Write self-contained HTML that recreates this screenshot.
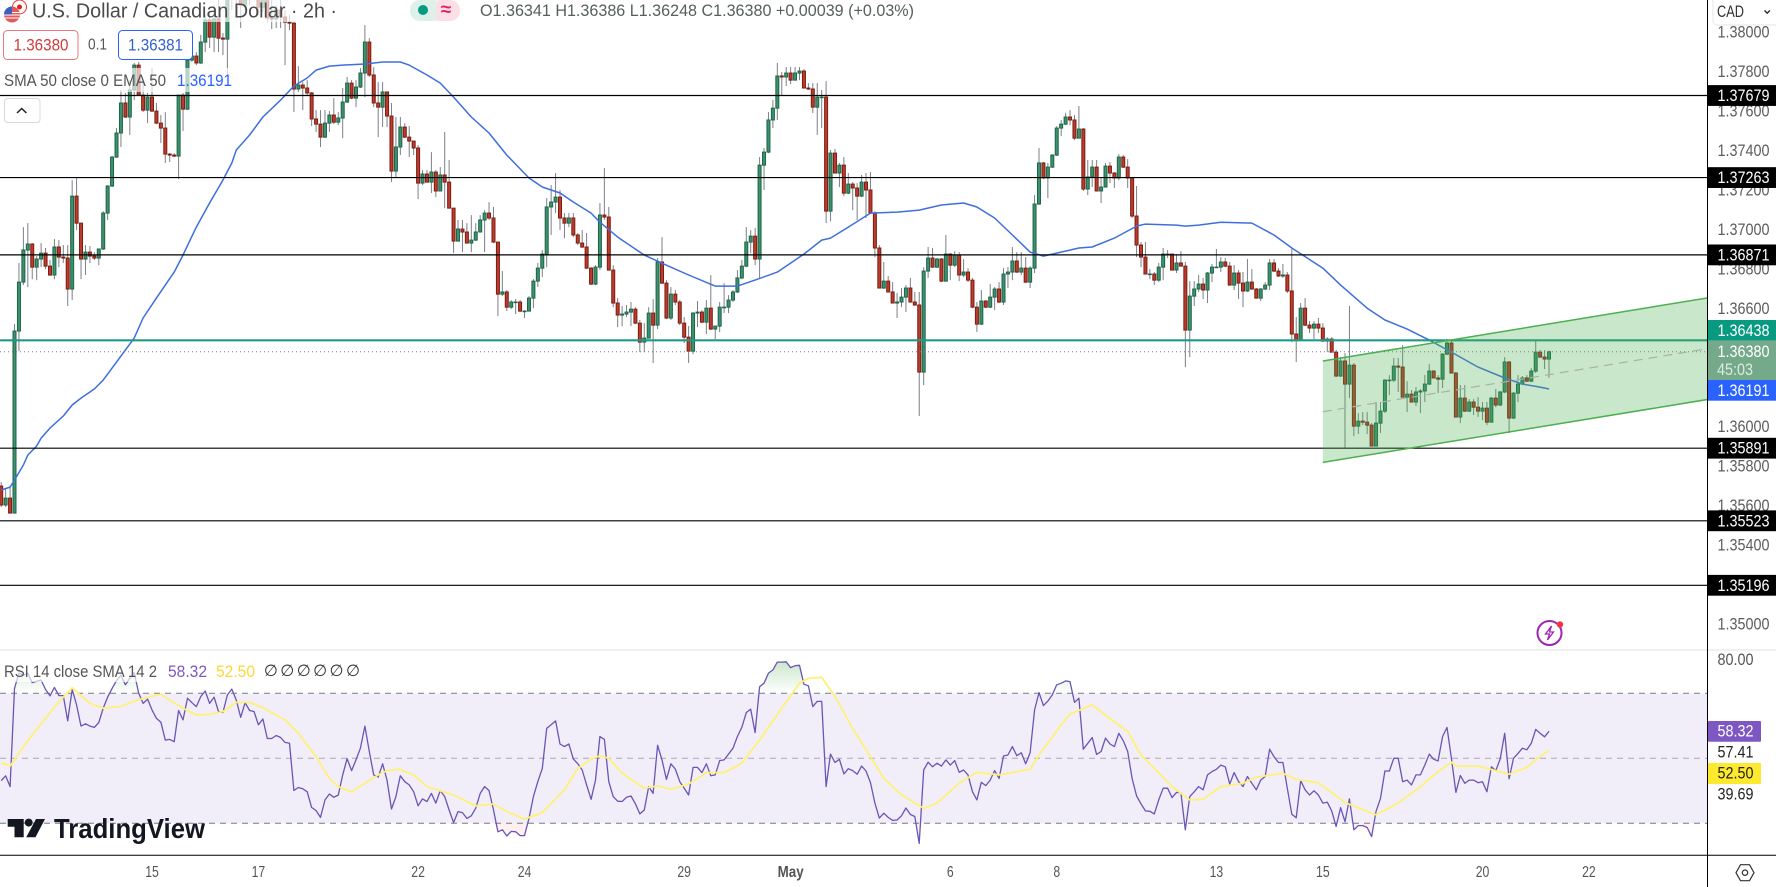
<!DOCTYPE html>
<html lang="en">
<head>
<meta charset="utf-8">
<title>USD/CAD 2h chart</title>
<style>
html,body{margin:0;padding:0;background:#fff;width:1776px;height:887px;overflow:hidden}
svg{display:block}
text{font-family:"Liberation Sans","DejaVu Sans",sans-serif;dominant-baseline:central}
</style>
</head>
<body>
<svg id="chart" xmlns="http://www.w3.org/2000/svg" width="1776" height="887" viewBox="0 0 1776 887">
<defs>
<clipPath id="pricePane"><rect x="0" y="0" width="1707" height="650"/></clipPath>
<clipPath id="rsiPane"><rect x="0" y="651" width="1707" height="204"/></clipPath>
<clipPath id="aboveOb"><rect x="0" y="651" width="1707" height="42.3"/></clipPath>
<clipPath id="belowOs"><rect x="0" y="823.3" width="1707" height="32"/></clipPath>
<linearGradient id="obGrad" x1="0" y1="0" x2="0" y2="1" gradientUnits="userSpaceOnUse"><stop offset="0" stop-color="#4caf50" stop-opacity=".3"/><stop offset="1" stop-color="#4caf50" stop-opacity="0"/></linearGradient>
</defs>
<rect x="0" y="0" width="1776" height="887" fill="#fff"/>
<g id="candles" clip-path="url(#pricePane)"></g>
<g id="ema" clip-path="url(#pricePane)"></g>
<g id="levels" clip-path="url(#pricePane)"></g>
<g id="channel" clip-path="url(#pricePane)"></g>
<g id="rsi"></g>

<line x1="0" y1="650" x2="1776" y2="650" stroke="#e6e6e8" stroke-width="1.2"/>
<line x1="0" y1="855.3" x2="1776" y2="855.3" stroke="#000" stroke-width="1"/>
<line x1="1707.5" y1="0" x2="1707.5" y2="887" stroke="#000" stroke-width="1"/>

<g id="priceAxis"></g>
<g id="timeAxis"></g>

<g>
<rect x="1708" y="320" width="68" height="20.7" fill="#089981"/>
<text x="1717.5" y="330.5" font-size="17" textLength="52" lengthAdjust="spacingAndGlyphs" fill="#fff">1.36438</text>
<rect x="1708" y="340.7" width="68" height="39.3" fill="#74a98a"/>
<text x="1717.5" y="351.5" font-size="17" textLength="52" lengthAdjust="spacingAndGlyphs" fill="#fff">1.36380</text>
<text x="1717" y="369.5" font-size="17" textLength="36" lengthAdjust="spacingAndGlyphs" fill="#dcebe2">45:03</text>
<rect x="1708" y="380" width="68" height="20.7" fill="#2962ff"/>
<text x="1717.5" y="390.7" font-size="17" textLength="52" lengthAdjust="spacingAndGlyphs" fill="#fff">1.36191</text>
</g>

<g>
<rect x="1713" y="-4" width="70" height="29" rx="4" fill="#fff" stroke="#e6e6e8"/>
<text x="1717" y="12" font-size="16.5" textLength="27" lengthAdjust="spacingAndGlyphs" fill="#333">CAD</text>
<path d="M1764.5 10.5l2.7 2.7 2.7-2.7" fill="none" stroke="#222" stroke-width="1.3"/>
</g>

<g>
<text x="1717.5" y="660" font-size="16.5" textLength="36" lengthAdjust="spacingAndGlyphs" fill="#555">80.00</text>
<rect x="1708" y="721" width="53" height="20.7" rx="1" fill="#7e57c2"/>
<text x="1717.5" y="731.5" font-size="16.5" textLength="36" lengthAdjust="spacingAndGlyphs" fill="#fff">58.32</text>
<text x="1717.5" y="752.7" font-size="16.5" textLength="36" lengthAdjust="spacingAndGlyphs" fill="#222">57.41</text>
<rect x="1708" y="763" width="53" height="21" rx="1" fill="#fdea2e"/>
<text x="1717.5" y="773.5" font-size="16.5" textLength="36" lengthAdjust="spacingAndGlyphs" fill="#222">52.50</text>
<text x="1717.5" y="794.7" font-size="16.5" textLength="36" lengthAdjust="spacingAndGlyphs" fill="#222">39.69</text>
</g>

<g>
<rect x="0" y="0" width="345" height="22" fill="#fff" opacity=".68"/>
<g>
<circle cx="19.5" cy="7" r="7" fill="#fff" stroke="#e33" stroke-width="1"/>
<circle cx="19.5" cy="7" r="2.5" fill="#d22"/>
<circle cx="12" cy="14.5" r="8" fill="#e05a5a"/>
<path d="M4.3 12.5h15.4M4 15h16M4.8 18h14.4" stroke="#fff" stroke-width="1.1"/>
<path d="M4 14.5a8 8 0 0 1 8-8v8z" fill="#3b5fc0"/>
</g>
<text x="32" y="11.5" font-size="20" textLength="305" lengthAdjust="spacingAndGlyphs" fill="#4a4a4a">U.S. Dollar / Canadian Dollar · 2h ·</text>
<rect x="410" y="0" width="30" height="21" rx="10" fill="#dff0ea"/>
<rect x="430" y="0" width="30" height="21" rx="10" fill="#fbdfe6"/>
<rect x="424" y="0" width="12" height="21" fill="#dff0ea"/>
<circle cx="423" cy="10" r="5" fill="#089981"/>
<text x="446" y="10" font-size="19" font-weight="700" text-anchor="middle" fill="#e91e63">≈</text>
<text x="480" y="10.7" font-size="17" textLength="434" lengthAdjust="spacingAndGlyphs" fill="#55605c">O1.36341  H1.36386  L1.36248  C1.36380  +0.00039 (+0.03%)</text>

<rect x="3.5" y="30.5" width="74.5" height="29" rx="4" fill="#fff" stroke="#e5787f"/>
<text x="13.5" y="45" font-size="17" textLength="55" lengthAdjust="spacingAndGlyphs" fill="#d33a3a">1.36380</text>
<text x="88" y="45" font-size="16" textLength="19" lengthAdjust="spacingAndGlyphs" fill="#555">0.1</text>
<rect x="118.5" y="30.5" width="74" height="29" rx="4" fill="#fff" stroke="#2962ff"/>
<text x="128" y="45" font-size="17" textLength="55" lengthAdjust="spacingAndGlyphs" fill="#2f5fd0">1.36381</text>

<rect x="0" y="68" width="236" height="24" fill="#fff" opacity=".65"/>
<text x="4" y="80.7" font-size="17" textLength="162" lengthAdjust="spacingAndGlyphs" fill="#555">SMA 50 close 0 EMA 50</text>
<text x="177" y="80.7" font-size="17" textLength="55" lengthAdjust="spacingAndGlyphs" fill="#2962ff">1.36191</text>

<rect x="4.5" y="98.5" width="35.5" height="24" rx="3" fill="#fff" stroke="#d6d8de"/>
<path d="M17 113l4.7-4.5 4.7 4.5" fill="none" stroke="#222" stroke-width="1.5"/>

<rect x="0" y="662" width="370" height="20" fill="#fff" opacity=".65"/>
<text x="4" y="671.7" font-size="17" textLength="153" lengthAdjust="spacingAndGlyphs" fill="#555">RSI 14 close SMA 14 2</text>
<text x="168" y="671.7" font-size="17" textLength="39" lengthAdjust="spacingAndGlyphs" fill="#7e57c2">58.32</text>
<text x="216" y="671.7" font-size="17" textLength="39" lengthAdjust="spacingAndGlyphs" fill="#fdd835">52.50</text>
<text x="264" y="671.7" font-size="16" textLength="96" fill="#333">∅∅∅∅∅∅</text>
</g>

<g>
<path d="M7.7 819h16v18.3h-9.2v-10.6h-6.8z" fill="#131722"/>
<circle cx="28.7" cy="822.6" r="4" fill="#131722"/>
<path d="M36 819h9l-9.5 18.3h-9.3z" fill="#131722"/>
<text x="54" y="828.5" font-size="28" font-weight="700" textLength="151" lengthAdjust="spacingAndGlyphs" fill="#131722">TradingView</text>
</g>

<g>
<circle cx="1549.5" cy="633" r="12" fill="#fff" stroke="#9c27b0" stroke-width="2"/>
<path d="M1551.5 626l-6 8h4l-2 6 6-8h-4z" fill="none" stroke="#9c27b0" stroke-width="1.3"/>
<circle cx="1560" cy="624.5" r="3.2" fill="#f23645"/>
</g>

<g>
<path d="M1736 872.7l4.5-8h9l4.5 8-4.5 8h-9z" fill="none" stroke="#333" stroke-width="1.2"/>
<circle cx="1745" cy="872.7" r="2.7" fill="none" stroke="#333" stroke-width="1.2"/>
</g>
</svg>

<script>
// Prices are quoted in pipettes: 136380 = 1.36380
const firstOpen = 135699;
const closes = [135603,135638,135562,136485,136733,136896,136926,136809,136850,136880,136814,136769,136911,136860,136855,136698,137169,137032,136850,136885,136865,136855,136901,137083,137220,137367,137489,137641,137570,137707,137833,137681,137605,137671,137600,137539,137514,137382,137377,137372,137681,137610,137859,137879,137844,137950,138062,137975,138067,137970,137965,138188,138224,138264,138138,138188,138239,138264,138127,138178,138072,138067,138112,138077,138051,138046,137712,137732,137717,137692,137560,137534,137468,137539,137580,137544,137565,137646,137742,137666,137722,137793,137950,137783,137641,137620,137697,137575,137296,137418,137519,137468,137448,137413,137235,137281,137240,137291,137195,137276,137240,137108,136941,137002,136987,136931,136946,136987,137048,137083,137058,136936,136672,136683,136606,136632,136632,136586,136586,136652,136738,136804,136875,137114,137139,137164,137058,137032,137058,136972,136931,136911,136804,136723,136809,137073,137063,136794,136627,136566,136571,136581,136596,136525,136429,136449,136576,136515,136835,136728,136551,136672,136632,136525,136454,136383,136576,136581,136530,136601,136495,136510,136606,136606,136642,136683,136754,136814,136936,136966,136850,137326,137392,137555,137615,137778,137773,137793,137757,137793,137803,137717,137712,137620,137671,137671,137093,137387,137286,137326,137184,137230,137210,137169,137240,137200,137083,136906,136703,136738,136683,136627,136632,136657,136703,136632,136617,136277,136789,136855,136809,136850,136738,136875,136819,136870,136769,136784,136743,136606,136520,136637,136606,136657,136698,136632,136774,136784,136840,136784,136804,136733,136804,137129,137337,137261,137316,137377,137514,137534,137570,137555,137463,137509,137205,137266,137316,137195,137215,137321,137286,137261,137367,137316,137261,137068,136921,136860,136774,136774,136743,136809,136875,136875,136794,136830,136814,136490,136662,136698,136723,136693,136779,136809,136809,136835,136814,136718,136779,136728,136688,136733,136698,136652,136698,136718,136830,136789,136764,136769,136688,136470,136439,136601,136515,136500,136520,136500,136434,136444,136378,136257,136333,136216,136312,136003,136028,136023,136008,135902,136018,136079,136236,136236,136307,136302,136150,136165,136125,136176,136181,136216,136282,136247,136241,136368,136424,136272,136049,136145,136079,136125,136099,136079,136094,136023,136145,136110,136176,136328,136044,136170,136216,136247,136231,136282,136378,136353,136343,136380];
const highs = [135719,135689,135694,136520,136830,137012,137032,136931,136865,136931,136906,136845,136951,136946,136921,136921,137250,137261,137032,136921,136916,136885,136901,137093,137225,137372,137514,137707,137692,137757,137844,137849,137757,137692,137818,137641,137580,137595,137387,137387,137681,137692,137910,137899,137899,137986,138092,138102,138138,138163,137996,138214,138264,138315,138290,138239,138290,138315,138290,138224,138214,138163,138138,138173,138112,138087,138051,137828,137747,137757,137697,137605,137605,137605,137600,137666,137595,137717,137773,137757,137757,137818,138036,137970,137823,137747,137747,137697,137641,137570,137570,137539,137524,137448,137428,137301,137301,137392,137301,137316,137494,137352,137108,137048,137048,137032,137073,137032,137073,137098,137139,137114,136936,136789,136693,136642,136647,136642,136591,136662,136748,136830,136896,137159,137225,137286,137200,137083,137083,137083,136982,136997,136982,136809,136819,137134,137311,137114,136819,136652,136612,136617,136632,136606,136541,136525,136606,136647,136855,136961,136743,136708,136693,136642,136556,136510,136581,136637,136591,136642,136769,136510,136632,136728,136667,136693,136794,136845,137012,136997,137007,137367,137413,137595,137656,137844,137798,137823,137823,137823,137823,137813,137742,137742,137742,137707,137752,137403,137408,137337,137367,137286,137240,137235,137276,137286,137291,137093,136921,136835,136764,136733,136678,136703,136718,136754,136683,136683,136809,136911,136906,136855,136855,136972,136880,136890,136885,136850,136804,136754,136632,136693,136642,136723,136708,136733,136804,136809,136911,136885,136885,136860,136814,137174,137413,137342,137337,137382,137524,137555,137590,137605,137580,137626,137514,137352,137352,137352,137266,137337,137342,137291,137382,137377,137357,137266,137220,136936,136936,136799,136784,136830,136906,136896,136875,136875,136890,136835,136738,136738,136769,136754,136784,136825,136901,136860,136855,136835,136819,136794,136784,136850,136799,136703,136703,136733,136850,136850,136804,136825,136784,136901,136556,136627,136652,136536,136536,136551,136525,136454,136454,136389,136353,136373,136612,136323,136069,136074,136074,136018,136125,136125,136241,136262,136348,136348,136414,136231,136186,136201,136191,136262,136318,136287,136262,136373,136444,136434,136277,136211,136211,136140,136140,136150,136125,136125,136150,136191,136181,136353,136333,136176,136262,136257,136262,136297,136434,136389,136389,136386];
const lows = [135593,135593,135562,135562,136383,136718,136708,136748,136743,136809,136799,136764,136748,136809,136830,136612,136642,136997,136748,136769,136830,136845,136819,136896,137048,137215,137362,137418,137565,137479,137656,137681,137595,137539,137595,137534,137438,137337,137342,137367,137255,137499,137605,137849,137833,137839,137899,137920,137899,137899,137884,137783,138112,138138,138021,138112,138138,138163,138087,138102,138051,138016,138021,138021,137833,138011,137595,137697,137605,137681,137524,137494,137418,137463,137494,137534,137529,137463,137641,137661,137620,137717,137671,137773,137620,137468,137519,137519,137240,137261,137377,137463,137367,137377,137154,137225,137240,137185,137164,137195,137108,137108,136880,136941,136885,136931,136885,136941,136987,136885,137048,136931,136561,136662,136586,136596,136571,136581,136551,136586,136601,136708,136759,136809,136972,137083,136997,136956,137012,136961,136921,136906,136799,136718,136718,136794,137048,136794,136606,136505,136510,136556,136510,136520,136378,136378,136449,136323,136495,136723,136546,136541,136617,136515,136424,136323,136368,136505,136525,136470,136490,136444,136480,136576,136576,136632,136678,136748,136809,136880,136819,136754,137200,137387,137514,137555,137681,137727,137737,137757,137757,137717,137707,137590,137479,137514,137032,137042,137286,137215,137169,137179,137098,137048,137164,137058,137078,136860,136703,136698,136683,136627,136551,136606,136581,136632,136612,136054,136211,136754,136804,136804,136733,136794,136743,136809,136738,136759,136733,136601,136480,136515,136601,136601,136591,136627,136617,136703,136743,136779,136769,136728,136703,136779,137124,137255,137159,137311,137372,137473,137529,137529,137453,137463,137195,137174,137215,137195,137134,137215,137235,137210,137250,137311,137210,137058,136860,136809,136774,136748,136718,136733,136743,136855,136794,136779,136814,136302,136353,136612,136683,136647,136627,136733,136804,136784,136809,136718,136693,136647,136606,136683,136693,136652,136637,136693,136693,136784,136759,136754,136678,136429,136328,136434,136510,136475,136444,136475,136429,136378,136378,136252,136252,135892,136145,135952,135963,136008,135963,135902,135902,135968,136069,136160,136226,136176,136150,136074,136125,136105,136069,136125,136211,136247,136170,136196,136363,136272,136049,136018,136074,136074,136059,136049,136034,136008,136023,136099,136105,136170,135968,136039,136125,136211,136226,136226,136272,136348,136292,136248];
const emaBars = [0,2,3,5,6,8,9,11,14,16,18,21,23,25,28,30,32,35,37,39,41,44,47,50,52,53,56,59,63,66,69,71,74,77,82,86,90,92,96,99,102,106,110,114,119,122,126,129,133,135,139,145,150,155,161,166,170,175,181,185,187,191,196,202,207,212,217,220,224,228,232,235,238,243,246,251,256,258,265,267,270,275,282,287,291,298,302,308,312,317,322,327,333,339,343,347,349];
const emaValues = [135679,135694,135730,135806,135856,135902,135942,135993,136054,136110,136145,136191,136236,136297,136389,136449,136551,136652,136718,136784,136870,137012,137134,137250,137337,137403,137479,137570,137656,137727,137768,137808,137828,137833,137839,137849,137849,137833,137783,137742,137671,137570,137489,137377,137261,137215,137185,137139,137083,137037,136961,136870,136819,136769,136713,136713,136743,136784,136875,136946,136956,137012,137083,137088,137098,137124,137134,137114,137058,136972,136885,136865,136880,136906,136911,136956,137017,137027,137022,137017,137022,137037,137032,136972,136906,136804,136718,136601,136541,136495,136439,136378,136302,136247,136216,136201,136191];
const rsiValues = [43.1,44.6,41.3,71.5,76.2,75.6,76.2,73.3,73.7,74.1,71.2,69.2,71.8,69.3,69.3,61.5,71.2,66.4,59.9,60.6,59.9,59.5,61,65.4,68.8,71.5,73.9,75.6,72.6,74.6,76.4,70,66.9,68.2,64.9,62.3,61.1,55.6,55.8,55.1,64.7,61.8,68.5,67.1,65.9,69,70.7,66.9,68.8,64.4,64.1,69.5,71.3,67.9,62.6,67.1,64.7,64.4,60.3,62.1,56.1,56.1,57,56.4,54.9,54.6,40.1,41,40.6,39.7,34.9,33.9,31.8,37.2,39,38,38.7,44.9,49.9,46.2,49.5,53.1,59.9,52.1,44.9,44.2,48.3,43.3,34.4,38.2,44.6,42.8,41.8,39.7,35.4,37.5,36.7,39.2,36.2,40.1,38.2,34.1,30.2,33.6,33.3,31.5,32.3,34.6,39.2,41.3,40.1,34.1,27.4,28,26.1,27.5,27.4,26.2,26.2,31.5,38.2,42.8,46.9,59.2,60.3,61.5,54.4,53.6,54.4,49.8,48.3,46.4,41.8,37.4,43.3,56.7,55.8,42.8,38.2,36.8,36.7,38,38.4,36,32.9,34.1,41.3,39.2,54,49.5,43.5,48.3,46.7,42.8,40.8,38.7,47.2,47.2,45.6,48.3,44.6,44.9,49.3,49.5,51.3,53.1,56.7,59.5,64.1,65.1,57.9,72,73.1,76.2,77.2,79.6,79.6,79.7,77.9,78.5,78.6,72.8,72.3,65.9,67.5,67.5,41.3,51.3,48.7,49.7,45.2,46.8,46.2,45.1,47.6,46.1,42.5,36.2,31.6,33.1,31.8,30.9,31,32.3,34.7,32.7,32.1,23.8,46.4,48.8,47.4,48.5,47.6,49.5,47.9,49.3,45.7,46.4,44.9,39.7,37.2,42.6,41.6,43.3,46.2,43.8,50.7,51,53.6,50.8,51.7,48.3,51.7,64.9,70.2,66.2,67.6,69.5,72.6,73.1,73.8,73.6,67.2,68.5,52.8,54.6,56.4,51.2,52.1,56.2,54.4,53.6,57.7,55.4,52.1,43.8,38.4,36,33.8,33.7,32.9,37.2,40.8,40.8,37.9,39.5,39.4,28,38.2,39.7,41.3,40.3,44.9,45.9,46.6,47.9,47.4,42.1,45.6,42.8,41.3,44.4,42.3,40.3,43.3,44.4,52.8,50.5,48.7,48.7,40.8,32.8,31.7,43.1,40.3,38.7,40,38.7,36.2,36.5,33.8,29,34.8,30.5,37.5,28,29.3,29.3,28.7,25.9,33.6,37.7,46.1,46.1,50,50,42.8,43.3,41.8,44.9,44.9,47.9,51.3,49.7,49.2,56.7,59.5,50,39.5,44.7,42.3,43.3,43.3,42.5,42.8,39.7,47.4,46.2,49.8,57.7,43.7,50,51.5,53.1,52.6,54.6,58.9,57.7,56.6,58.32];
const rsiMaBars = [0,2,5,7,10,13,16,17,20,23,27,30,33,36,38,41,44,47,50,53,56,59,64,67,71,74,76,79,82,85,87,90,93,96,102,107,111,114,118,122,127,130,133,135,137,140,145,148,151,155,159,163,167,171,176,180,182,185,188,192,196,199,203,208,211,216,220,225,232,234,239,241,246,249,254,257,261,264,268,271,275,280,283,289,292,297,303,310,315,320,324,327,328,333,337,340,344,346,349];
const rsiMaValues = [48.7,47.6,53.6,57.2,62.3,67.4,71.7,70.5,66.9,65.4,65.9,67.6,68.8,69.7,67.9,65.4,63.3,63.5,64.4,67.2,67.2,65.6,61.8,57.7,50.5,43.8,41.3,39.7,42.3,44.9,46.2,46.6,44.9,41.3,38.7,35.4,35.9,33.6,31.3,33.3,40.3,46.9,49.7,50.8,50,45.4,40.8,41.5,40.5,42.1,45.6,45.6,48.5,55.6,65.4,73.1,74.6,74.9,69,59.2,50.5,43.8,38.7,34.6,36.2,42.3,45.7,44.9,46.6,51,60.3,63.6,66.4,63.3,58.2,51,45.6,41.3,37.2,37.4,41.3,42.3,44.2,45.4,43.5,42.5,36.4,32.6,36.2,41.3,45.9,48.8,47.6,47.6,46.2,45.1,47.2,49.5,52.5];
const priceTicks = [1.38,1.378,1.376,1.374,1.372,1.37,1.368,1.366,1.364,1.362,1.36,1.358,1.356,1.354,1.352,1.35];
const levelPrices = [1.37679,1.37263,1.36871,1.35891,1.35523,1.35196];
const supportLevel = 1.36438;
const lastPrice = 1.3638;
const channelBars = [298,385];
const channelUpper = [1.36333,1.36654];
const channelLower = [1.35819,1.36139];
const rsiBands = [70,50,30];
const timeBars = [34,58,94,118,154,178,214,238,274,298,334,358];
const timeLabels = ['15','17','22','24','29','May','6','8','13','15','20','22'];

const NS = 'http://www.w3.org/2000/svg';
function xBar(b){return 1.2 + b*4.435;}
function yPrice(p){return 426.7 + (1.36-p)/0.002*39.45;}
function yRsi(r){return 758.3 + (50-r)*3.25;}
function make(tag, attrs, parent){
  const e = document.createElementNS(NS, tag);
  for (const k in attrs) e.setAttribute(k, attrs[k]);
  parent.appendChild(e);
  return e;
}
function pathFrom(xs, ys){
  return xs.map((x,i)=>(i?'L':'M')+x.toFixed(1)+' '+ys[i].toFixed(1)).join('');
}

// candles
const candleRoot = document.getElementById('candles');
closes.forEach((c,i)=>{
  const close = c/100000;
  const open = (i===0?firstOpen:closes[i-1])/100000;
  const up = close >= open;
  const x = xBar(i);
  const g = make('g',{},candleRoot);
  
  
  const wick = make('line',{x1:x,x2:x,y1:yPrice(highs[i]/100000),y2:yPrice(lows[i]/100000),stroke:'#7c7f88','stroke-width':1},g);
  
  
  const top = Math.min(yPrice(open),yPrice(close));
  const h = Math.max(Math.abs(yPrice(open)-yPrice(close)),0.6);
  const body = make('rect',{x:x-1.5,y:top,width:3,height:h,fill:up?'#3f9070':'#b93c2c',stroke:up?'#1b6646':'#7d1c12','stroke-width':1},g);
  
  
});

// EMA
const emaPath = make('path',{d:pathFrom(emaBars.map(xBar),emaValues.map(v=>yPrice(v/100000))),fill:'none',stroke:'#3f6fdc','stroke-width':1.5,'stroke-linejoin':'round'},document.getElementById('ema'));



// levels
const levelsRoot = document.getElementById('levels');
levelPrices.forEach(p=>{
  const l = make('line',{x1:0,x2:1707,y1:yPrice(p),y2:yPrice(p),stroke:'#000','stroke-width':1.2},levelsRoot);
  
  
});
const dotted = make('line',{x1:0,x2:1707,y1:yPrice(lastPrice),y2:yPrice(lastPrice),stroke:'#787b86','stroke-width':1,'stroke-dasharray':'1 3'},levelsRoot);


const support = make('line',{x1:0,x2:1707,y1:yPrice(supportLevel),y2:yPrice(supportLevel),stroke:'#1f9a88','stroke-width':2.2},levelsRoot);



// channel
const chRoot = document.getElementById('channel');
const cx0 = xBar(channelBars[0]), cx1 = xBar(channelBars[1]);
const chFill = make('polygon',{points:[cx0,yPrice(channelUpper[0]),cx1,yPrice(channelUpper[1]),cx1,yPrice(channelLower[1]),cx0,yPrice(channelLower[0])].join(' '),fill:'#4caf50','fill-opacity':.3},chRoot);


const chUp = make('line',{x1:cx0,x2:cx1,y1:yPrice(channelUpper[0]),y2:yPrice(channelUpper[1]),stroke:'#4caf50','stroke-width':1.5},chRoot);


const chLo = make('line',{x1:cx0,x2:cx1,y1:yPrice(channelLower[0]),y2:yPrice(channelLower[1]),stroke:'#4caf50','stroke-width':1.5},chRoot);


const chMid = make('line',{x1:cx0,x2:cx1,y1:yPrice((channelUpper[0]+channelLower[0])/2),y2:yPrice((channelUpper[1]+channelLower[1])/2),stroke:'#a9b0ac','stroke-width':1.2,'stroke-dasharray':'9 6'},chRoot);



// RSI pane
const rsiRoot = document.getElementById('rsi');
const band = make('rect',{x:0,y:yRsi(rsiBands[0]),width:1707,height:yRsi(rsiBands[2])-yRsi(rsiBands[0]),fill:'#7e57c2','fill-opacity':.1},rsiRoot);


rsiBands.forEach(b=>{
  const l = make('line',{x1:0,x2:1707,y1:yRsi(b),y2:yRsi(b),stroke:b===50?'#aca6b6':'#787b86','stroke-width':1,'stroke-dasharray':'6 5'},rsiRoot);
  
  
});
const rsiXs = rsiValues.map((v,i)=>xBar(i));
const rsiYs = rsiValues.map(yRsi);
const baseOb = yRsi(rsiBands[0]), baseOs = yRsi(rsiBands[2]);
const grad = document.getElementById('obGrad');
grad.setAttribute('x1',0);grad.setAttribute('y1',yRsi(80));grad.setAttribute('x2',0);grad.setAttribute('y2',baseOb);
const obArea = make('path',{d:pathFrom(rsiXs,rsiYs)+'L'+rsiXs[rsiXs.length-1]+' '+baseOb+'L'+rsiXs[0]+' '+baseOb+'Z',fill:'url(#obGrad)','clip-path':'url(#aboveOb)'},rsiRoot);


const osArea = make('path',{d:pathFrom(rsiXs,rsiYs)+'L'+rsiXs[rsiXs.length-1]+' '+baseOs+'L'+rsiXs[0]+' '+baseOs+'Z',fill:'#f23645','fill-opacity':.08,'clip-path':'url(#belowOs)'},rsiRoot);


const rsiLine = make('path',{d:pathFrom(rsiXs,rsiYs),fill:'none',stroke:'#6a55b4','stroke-width':1.3,'stroke-linejoin':'round','clip-path':'url(#rsiPane)'},rsiRoot);


const maLine = make('path',{d:pathFrom(rsiMaBars.map(xBar),rsiMaValues.map(yRsi)),fill:'none',stroke:'#fff176','stroke-width':1.8,'stroke-linejoin':'round','clip-path':'url(#rsiPane)'},rsiRoot);



// price axis
const pa = document.getElementById('priceAxis');
priceTicks.forEach(p=>{
  const t = make('text',{x:1717.5,y:yPrice(p),'font-size':17,textLength:52,lengthAdjust:'spacingAndGlyphs',fill:'#5c5c5c'},pa);
  
  
  t.textContent = p.toFixed(5);
});
levelPrices.forEach(p=>{
  const r = make('rect',{x:1708,y:yPrice(p)-10.4,width:68,height:20.8,fill:'#000'},pa);
  
  
  const t = make('text',{x:1717.5,y:yPrice(p),'font-size':17,textLength:52,lengthAdjust:'spacingAndGlyphs',fill:'#fff'},pa);
  
  
  t.textContent = p.toFixed(5);
});

// time axis
const ta = document.getElementById('timeAxis');
timeBars.forEach((b,i)=>{
  const label = timeLabels[i];
  const isMonth = label==='May';
  const w = isMonth ? 26 : label.length*6.8;
  const t = make('text',{x:xBar(b),y:872.7,'font-size':16,'text-anchor':'middle',textLength:w,lengthAdjust:'spacingAndGlyphs',fill:'#555','font-weight':isMonth?700:400},ta);
  
  
  t.textContent = label;
});
</script>
</body>
</html>
